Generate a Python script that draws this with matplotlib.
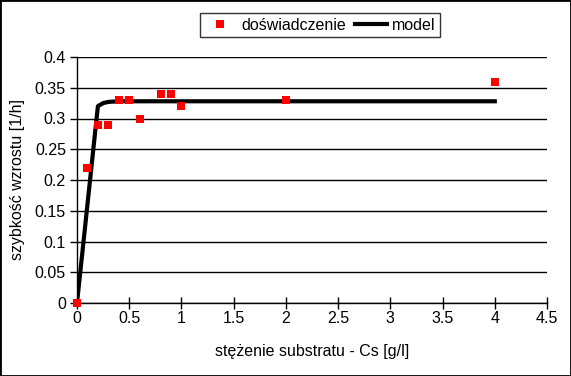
import matplotlib
matplotlib.use('Agg')
import matplotlib.pyplot as plt
from matplotlib.patches import Rectangle

plt.rcParams['font.family'] = ['Liberation Sans', 'DejaVu Sans']

# pomiary
cs_exp = [0, 0.1, 0.2, 0.3, 0.4, 0.5, 0.6, 0.8, 0.9, 1.0, 2.0, 4.0]
mu_exp = [0, 0.22, 0.29, 0.29, 0.33, 0.33, 0.30, 0.34, 0.34, 0.32, 0.33, 0.36]

# model
cs_mod = [0, 0.05, 0.1, 0.15, 0.2, 0.25, 0.3, 0.4, 0.5, 1.0, 2.0, 3.0, 4.0]
mu_mod = [0, 0.08, 0.16, 0.24, 0.32, 0.325, 0.327, 0.328, 0.328, 0.328, 0.328, 0.328, 0.328]

xticks = [0, 0.5, 1, 1.5, 2, 2.5, 3, 3.5, 4, 4.5]
yticks = [0, 0.05, 0.1, 0.15, 0.2, 0.25, 0.3, 0.35, 0.4]

fs = 11.5

fig = plt.figure(figsize=(5.71, 3.76), dpi=100)
ax = fig.add_axes([77/571, 1 - 303/376, 470/571, 246/376])

ax.plot(cs_mod, mu_mod, color='black', lw=3, label='model', zorder=3)
ax.plot(cs_exp, mu_exp, 's', color='#ff0000', ms=6.3, mew=0, label='doświadczenie',
        zorder=4, clip_on=False)

ax.set_xlim(0, 4.5)
ax.set_ylim(0, 0.4)
ax.set_xticks(xticks)
ax.set_xticklabels([f'{t:g}' for t in xticks])
ax.set_yticks(yticks)
ax.set_yticklabels([f'{t:g}' for t in yticks])
ax.grid(axis='y', color='black', lw=1)
ax.set_axisbelow(True)
for s in ['top', 'right']:
    ax.spines[s].set_visible(False)
ax.spines['left'].set_linewidth(1)
ax.spines['bottom'].set_linewidth(1)
ax.tick_params(axis='x', direction='inout', length=8, width=1, labelsize=fs, pad=2)
ax.tick_params(axis='y', direction='out', length=5, width=1, labelsize=fs, pad=3)

ax.set_xlabel('stężenie substratu - Cs [g/l]', fontsize=fs, labelpad=13)
ax.set_ylabel('szybkość wzrostu [1/h]', fontsize=fs, labelpad=7)

h, l = ax.get_legend_handles_labels()
leg = fig.legend(h[::-1], l[::-1], loc='center', bbox_to_anchor=(320/571, 1 - 25/376),
                 ncol=2, fontsize=fs, frameon=True, fancybox=False, edgecolor='black',
                 handlelength=2.0, handletextpad=0.3, columnspacing=0.6,
                 borderpad=0.3)
leg.get_frame().set_linewidth(1)

fig.patches.append(Rectangle((0, 0), 1, 1, transform=fig.transFigure, fill=False,
                             edgecolor='black', lw=2))

fig.savefig('out.png', dpi=100)
